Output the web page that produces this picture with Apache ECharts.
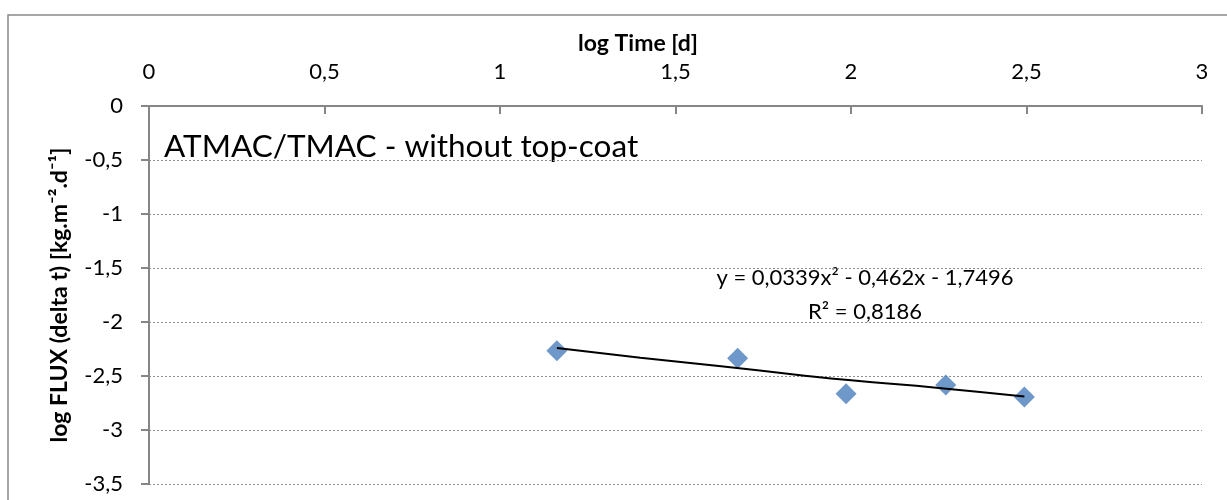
<!DOCTYPE html>
<html lang="en">
<head>
    <meta charset="UTF-8">
    <title>ATMAC/TMAC - without top-coat</title>
    <script src="https://cdn.jsdelivr.net/npm/echarts@6.0.0/dist/echarts.min.js"></script>
    <style>
        * { margin: 0; padding: 0; box-sizing: border-box; }
        body { background: #fff; }
        #chart { width: 1227px; height: 500px; }
    </style>
</head>
<body>
    <div id="chart"></div>

    <script>
        // measured points: log time [d] vs log flux
        const logTime = [1.162, 1.677, 1.986, 2.270, 2.494];
        const logFlux = [-2.266, -2.336, -2.664, -2.583, -2.694];

        // polynomial trendline, points
        const trendX = [1.162, 1.40, 1.63, 1.85, 2.00, 2.25, 2.494];
        const trendY = [-2.24, -2.33, -2.41, -2.49, -2.54, -2.61, -2.69];

        const xTicks = { min: 0, max: 3, step: 0.5 };
        const yTicks = { min: -3.5, max: 0, step: 0.5 };

        const chartTitle = 'ATMAC/TMAC - without top-coat';
        const eqText = 'y = 0,0339x² - 0,462x - 1,7496';
        const r2Text = 'R² = 0,8186';

        const font = 'Lato, "DejaVu Sans", sans-serif';
        const comma = v => String(v).replace('.', ',');

        const chart = echarts.init(document.getElementById('chart'));

        const option = {
            animation: false,
            textStyle: { fontFamily: font },
            grid: { left: 149, top: 106, right: 25, bottom: 16 },
            graphic: [
                {
                    type: 'rect',
                    shape: { x: 8, y: 15, width: 1260, height: 600 },
                    style: { fill: 'none', stroke: '#898989', lineWidth: 1.5 },
                    silent: true
                },
                {
                    type: 'text', x: 638, y: 44,
                    style: {
                        text: 'log Time [d]', font: 'bold 23px ' + font,
                        fill: '#000', align: 'center', verticalAlign: 'middle'
                    }
                },
                {
                    type: 'text', x: 164, y: 147,
                    style: {
                        text: chartTitle, font: '31.5px ' + font,
                        fill: '#000', align: 'left', verticalAlign: 'middle'
                    }
                },
                {
                    type: 'text', x: 865, y: 278,
                    style: {
                        text: eqText, font: '22px ' + font,
                        fill: '#000', align: 'center', verticalAlign: 'middle'
                    }
                },
                {
                    type: 'text', x: 865, y: 312,
                    style: {
                        text: r2Text, font: '22px ' + font,
                        fill: '#000', align: 'center', verticalAlign: 'middle'
                    }
                }
            ],
            xAxis: {
                type: 'value',
                position: 'top',
                min: xTicks.min,
                max: xTicks.max,
                interval: xTicks.step,
                axisLine: { show: true, lineStyle: { color: '#868686', width: 2 } },
                axisTick: { show: true, inside: true, length: 8, lineStyle: { color: '#868686', width: 2 } },
                axisLabel: { color: '#000', fontSize: 22, margin: 23, formatter: comma },
                splitLine: { show: false }
            },
            yAxis: {
                type: 'value',
                min: yTicks.min,
                max: yTicks.max,
                interval: yTicks.step,
                name: 'log FLUX (delta t) [kg.m⁻².d⁻¹]',
                nameLocation: 'middle',
                nameGap: 78,
                nameTextStyle: { color: '#000', fontSize: 23, fontWeight: 'bold' },
                axisLine: { show: true, lineStyle: { color: '#868686', width: 2 } },
                axisTick: { show: true, length: 8, lineStyle: { color: '#868686', width: 2 } },
                axisLabel: { color: '#000', fontSize: 22, margin: 26, formatter: comma },
                splitLine: { show: true, lineStyle: { color: '#8f8f8f', type: [2, 2], width: 1 } }
            },
            series: [
                {
                    type: 'scatter',
                    data: logTime.map((x, i) => [x, logFlux[i]]),
                    symbol: 'diamond',
                    symbolSize: 21,
                    itemStyle: { color: '#4a7ebb' },
                    z: 2
                },
                {
                    type: 'line',
                    data: trendX.map((x, i) => [x, trendY[i]]),
                    smooth: true,
                    showSymbol: false,
                    lineStyle: { color: '#000', width: 2 },
                    z: 3
                }
            ]
        };

        chart.setOption(option);
    </script>
</body>
</html>
